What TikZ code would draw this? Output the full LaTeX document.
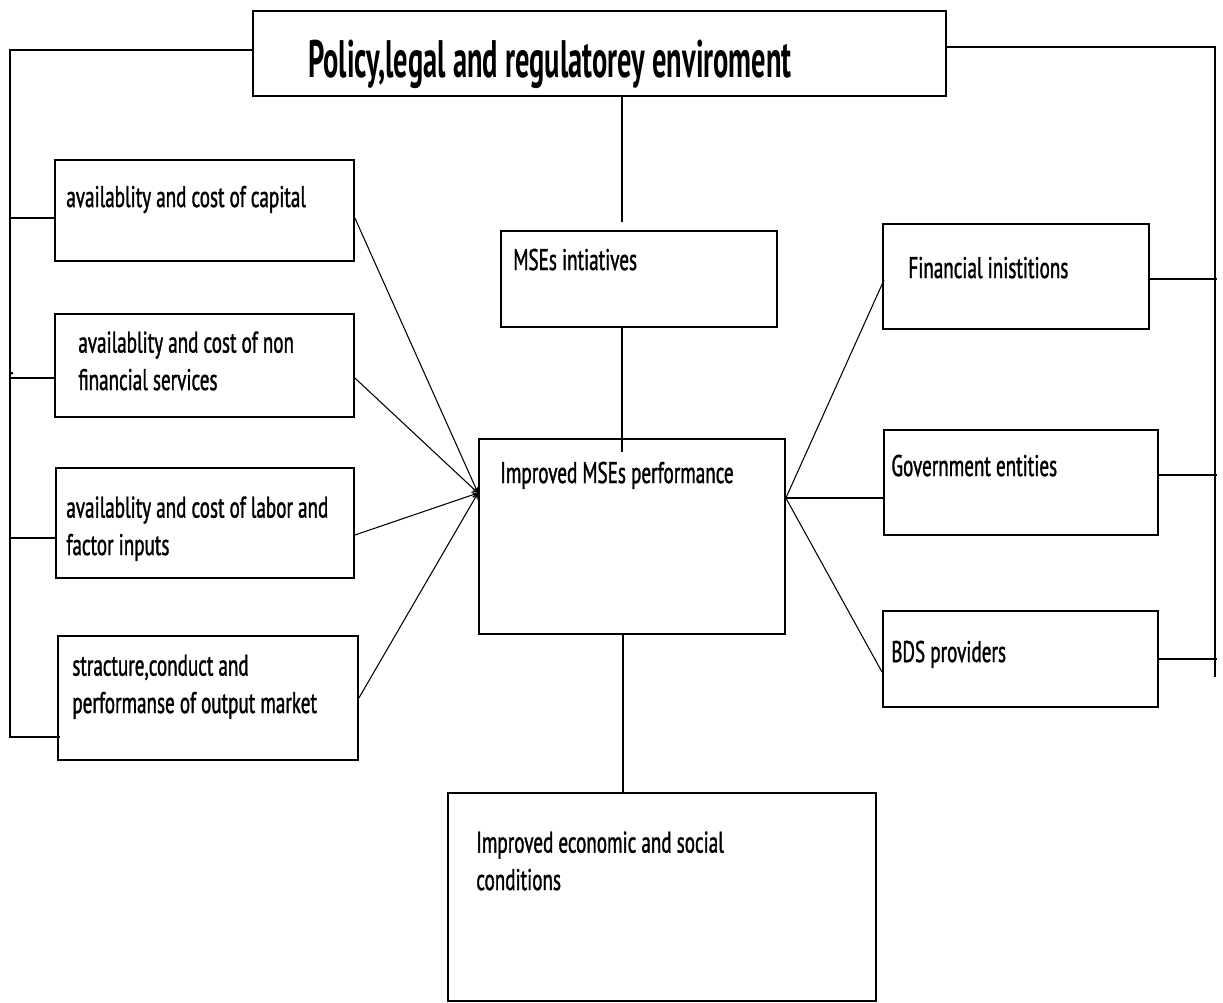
\documentclass[tikz,border=0pt]{standalone}
\usepackage{fontspec}
\setmainfont{PT Sans}[FakeStretch=0.64, FakeBold=1.2]
\newfontfamily\titlefont{PT Sans Bold}[FakeStretch=0.54]
\usepackage{tikz}
\usetikzlibrary{arrows, positioning, calc}
\tikzset{box/.style = {
  rectangle,
  draw=black, line width=1.1pt,
  anchor=north west,
  inner sep=0pt
  }}
\tikzset{txt/.style = {
  anchor=base west,
  inner sep=0pt,
  align=left,
  font=\fontsize{17}{21.3}\selectfont
  }}
\tikzset{link/.style = {
  draw=black,
  line width=0.6pt
  }}
\tikzset{arrow/.style = {
  link,
  ->,
  >=stealth
  }}

\begin{document}
\begin{tikzpicture}[x=0.02cm, y=-0.02cm]
\useasboundingbox (0,0) rectangle (1223,1002);

% NODES
\node (policy) [box, minimum width=13.86cm, minimum height=1.7cm] at (252,10) {};
\node [anchor=base, inner sep=0pt, font=\titlefont\fontsize{30}{33}\selectfont] at (550,77) {Policy,legal and regulatorey enviroment};

\node (capital) [box, minimum width=5.98cm, minimum height=2.02cm] at (54,159) {};
\node [txt] at ($(capital.north west)+(12,48)$) {availablity and cost of capital};

\node (nonfin) [box, minimum width=5.98cm, minimum height=2.06cm] at (54,313) {};
\node [txt] at ($(nonfin.north west)+(24,77)$) {availablity and cost of non\\financial services};

\node (labor) [box, minimum width=5.96cm, minimum height=2.2cm] at (55,467) {};
\node [txt] at ($(labor.north west)+(11,88)$) {availablity and cost of labor and\\factor inputs};

\node (market) [box, minimum width=6cm, minimum height=2.48cm] at (57,635) {};
\node [txt] at ($(market.north west)+(15,78)$) {stracture,conduct and\\performanse of output market};

\node (init) [box, minimum width=5.52cm, minimum height=1.92cm] at (500,230) {};
\node [txt] at ($(init.north west)+(13,40)$) {MSEs intiatives};

\node (perf) [box, minimum width=6.12cm, minimum height=3.9cm] at (478,438) {};
\node [txt] at ($(perf.north west)+(22,45)$) {Improved MSEs performance};

\node (econ) [box, minimum width=8.56cm, minimum height=4.16cm] at (447,792) {};
\node [txt] at ($(econ.north west)+(29,98)$) {Improved economic and social\\conditions};

\node (fin) [box, minimum width=5.32cm, minimum height=2.1cm] at (882,223) {};
\node [txt] at ($(fin.north west)+(26,55)$) {Financial inistitions};

\node (gov) [box, minimum width=5.48cm, minimum height=2.1cm] at (883,429) {};
\node [txt] at ($(gov.north west)+(8,47)$) {Government entities};

\node (bds) [box, minimum width=5.5cm, minimum height=1.92cm] at (882,610) {};
\node [txt] at ($(bds.north west)+(9,52)$) {BDS providers};

\coordinate (lhub) at ($(perf.north west)+(0,55)$);
\coordinate (rhub) at ($(perf.north east)+(0,60)$);

% outer frame
\draw [link] ($(policy.north west)+(0,40)$) -- (10,50) -- (10,737) -- ($(market.north west)+(3,102)$);
\draw [link] ($(policy.north east)+(0,37)$) -- (1215,47) -- (1215,677);

\draw [link] ($(capital.north west)+(0,59)$) -- ++(-44,0);
\draw [link] ($(nonfin.north west)+(0,65)$) -- ++(-44,0);
\draw [link, line width=1.1pt] ($(labor.north west)+(0,71)$) -- ++(-45,0);
\fill (12,373) circle (1.5);

\draw [link] ($(fin.north east)+(0,56)$) -- ++(67,0);
\draw [link] ($(gov.north east)+(0,46)$) -- ++(58,0);
\draw [link] ($(bds.north east)+(0,49)$) -- ++(58,0);

% arrows
\draw [arrow] ($(capital.north east)+(0,59)$) -- (lhub);
\draw [arrow] ($(nonfin.north east)+(0,65)$) -- (lhub);
\draw [arrow] ($(labor.north east)+(0,68)$) -- (lhub);
\draw [arrow] ($(market.north east)+(0,63)$) -- (lhub);

\draw [link] (rhub) -- ($(fin.north west)+(2,57)$);
\draw [link] (rhub) -- (gov.west |- rhub);
\draw [link] (rhub) -- ($(bds.north west)+(0,62)$);

\draw [link] ($(init.north west)+(122,-8)$) coordinate (a) -- (a |- policy.south);
\draw [link] ($(init.south west)+(122,0)$) coordinate (b) -- ($(b |- perf.north)+(0,14)$);
\draw [link] ($(perf.south west)+(145,0)$) coordinate (c) -- (c |- econ.north);
\end{tikzpicture}
\end{document}
